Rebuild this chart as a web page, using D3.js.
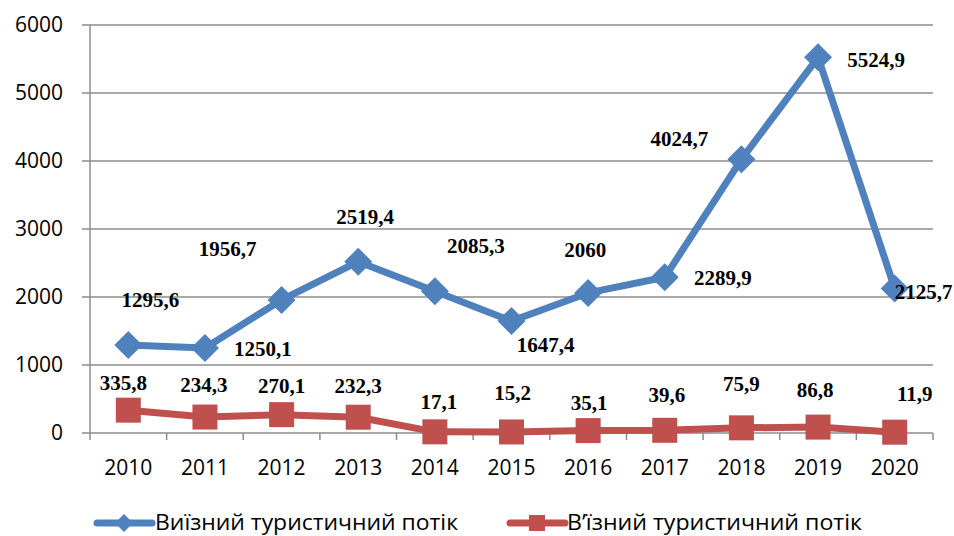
<!DOCTYPE html>
<html><head><meta charset="utf-8">
<script src="https://cdn.jsdelivr.net/npm/d3@7"></script>
<style>body{margin:0;background:#fff}svg{display:block}</style>
</head><body><div id="chart"></div>
<script>
const years = ["2010","2011","2012","2013","2014","2015","2016","2017","2018","2019","2020"];
const outbound = [1295.6,1250.1,1956.7,2519.4,2085.3,1647.4,2060,2289.9,4024.7,5524.9,2125.7];
const inbound = [335.8,234.3,270.1,232.3,17.1,15.2,35.1,39.6,75.9,86.8,11.9];
const yTicks = [0,1000,2000,3000,4000,5000,6000];
const seriesNames = ["Виїзний туристичний потік","В’їзний туристичний потік"];
// label offsets (pixels) relative to each point
const outOffsets = [[22,-45],[58,1],[-54,-51],[7,-45],[41,-46],[34,24],[-3,-43],[58,0],[-62,-21],[58,2],[29,3]];
const inOffsets = [[-5,-28],[-1,-32],[0,-29],[0,-32],[4,-30],[1,-39],[1,-28],[2,-36],[0,-44],[-3,-37],[20,-39]];

const W=954,H=536;
const svg=d3.select("#chart").append("svg").attr("width",W).attr("height",H);
const x=d3.scaleBand().domain(years).range([90,933]).padding(0);
const y=d3.scaleLinear().domain([0,6000]).range([433,25]);
const cx=d=>x(d)+x.bandwidth()/2;
const grid="#8c8c8c";
const BLUE="#4F81BD", RED="#C0504D";

// gridlines
svg.append("g").selectAll("line").data(yTicks).join("line")
  .attr("x1",82).attr("x2",933).attr("y1",d=>y(d)).attr("y2",d=>y(d))
  .attr("stroke",grid).attr("stroke-width",1.5);
// y axis line
svg.append("line").attr("x1",90).attr("x2",90).attr("y1",y(6000)).attr("y2",y(0)).attr("stroke",grid).attr("stroke-width",1.5);
// x ticks at boundaries
const bounds=years.map(d=>x(d)).concat([933]);
svg.append("g").selectAll("line").data(bounds).join("line")
  .attr("x1",d=>d).attr("x2",d=>d).attr("y1",y(0)).attr("y2",y(0)+7)
  .attr("stroke",grid).attr("stroke-width",1.5);
// y labels
svg.append("g").selectAll("text").data(yTicks).join("text")
  .attr("x",63).attr("y",d=>y(d)).attr("dy","0.35em").attr("text-anchor","end")
  .attr("font-family","Open Sans").attr("font-size",21).attr("fill","#000").text(d=>d);
// x labels
svg.append("g").selectAll("text").data(years).join("text")
  .attr("x",d=>cx(d)).attr("y",468).attr("dy","0.35em").attr("text-anchor","middle")
  .attr("font-family","Open Sans").attr("font-size",21).attr("fill","#000").text(d=>d);

const line=d3.line().x((d,i)=>cx(years[i])).y(d=>y(d));
function diamond(g,px,py,r,color){
  g.append("path").attr("d",`M${px},${py-r}L${px+r},${py}L${px},${py+r}L${px-r},${py}Z`).attr("fill",color);
}
function square(g,px,py,s,color){
  g.append("rect").attr("x",px-s/2).attr("y",py-s/2).attr("width",s).attr("height",s).attr("fill",color);
}
// red series
svg.append("path").datum(inbound).attr("d",line).attr("fill","none").attr("stroke",RED).attr("stroke-width",7).attr("stroke-linejoin","round");
const gr=svg.append("g");
inbound.forEach((v,i)=>square(gr,cx(years[i]),y(v),25,RED));
// blue series
svg.append("path").datum(outbound).attr("d",line).attr("fill","none").attr("stroke",BLUE).attr("stroke-width",7).attr("stroke-linejoin","round");
const gb=svg.append("g");
outbound.forEach((v,i)=>diamond(gb,cx(years[i]),y(v),14,BLUE));

const fmt=v=>String(v).replace(".",",");
function labels(data,offs){
  svg.append("g").selectAll("text").data(data).join("text")
    .attr("x",(d,i)=>cx(years[i])+offs[i][0]).attr("y",(d,i)=>y(d)+offs[i][1]).attr("dy","0.35em")
    .attr("text-anchor","middle").attr("font-family","Liberation Serif").attr("font-weight","bold")
    .attr("font-size",21).attr("fill","#000").text(fmt);
}
labels(outbound,outOffsets);
labels(inbound,inOffsets);

// legend
const lg=svg.append("g");
const ly=523;
lg.append("line").attr("x1",97).attr("x2",152).attr("y1",ly).attr("y2",ly).attr("stroke",BLUE).attr("stroke-width",7).attr("stroke-linecap","round");
diamond(lg,124,ly,9,BLUE);
lg.append("text").attr("x",155).attr("y",ly).attr("dy","0.35em").attr("font-family","Open Sans").attr("font-size",21)
  .attr("textLength",303).attr("lengthAdjust","spacingAndGlyphs").text(seriesNames[0]);
lg.append("line").attr("x1",510).attr("x2",565).attr("y1",ly).attr("y2",ly).attr("stroke",RED).attr("stroke-width",7).attr("stroke-linecap","round");
square(lg,537,ly,16,RED);
lg.append("text").attr("x",567).attr("y",ly).attr("dy","0.35em").attr("font-family","Open Sans").attr("font-size",21)
  .attr("textLength",295).attr("lengthAdjust","spacingAndGlyphs").text(seriesNames[1]);
</script></body></html>
